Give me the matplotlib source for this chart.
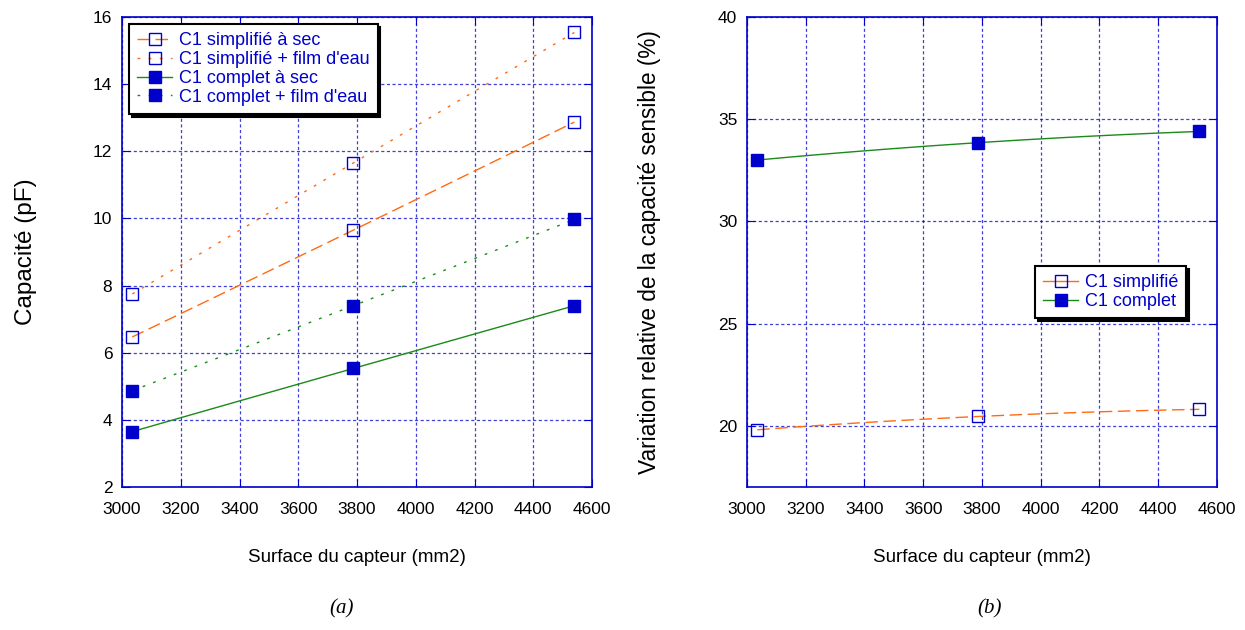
import numpy as np
import matplotlib
matplotlib.use("Agg")
import matplotlib.pyplot as plt

# Data
surface = [3035, 3787, 4540]

simpl_sec = [6.47, 9.65, 12.87]
simpl_film = [7.75, 11.65, 15.54]
complet_sec = [3.65, 5.53, 7.40]
complet_film = [4.87, 7.40, 9.97]

var_simpl = [19.8, 20.45, 20.8]
var_complet = [33.0, 33.85, 34.4]

BLUE = "#0000CC"
ORANGE = "#FF6A13"
GREEN = "#1A8A1A"

plt.rcParams["font.family"] = ["Liberation Sans", "DejaVu Sans"]


def fit_curve(ax, x, y, color, dashes):
    # smooth quadratic fit through the points, like the original software
    c = np.polyfit(x, y, 2)
    xs = np.linspace(x[0], x[-1], 100)
    line, = ax.plot(xs, np.polyval(c, xs), color=color, lw=1.0)
    if dashes is not None:
        line.set_dashes(dashes)
    return line


def style_axes(ax):
    for s in ax.spines.values():
        s.set_color(BLUE)
        s.set_linewidth(1.2)
    ax.tick_params(direction="in", length=6, color=BLUE, top=True, right=True,
                   labelsize=12.5, labelcolor="black")
    ax.tick_params(axis="x", pad=11)
    ax.tick_params(axis="y", pad=7)
    ax.grid(True, color=BLUE, alpha=0.75, lw=0.9, linestyle=(0, (2.5, 2)))
    ax.set_axisbelow(True)


def style_legend(leg):
    leg.get_frame().set_edgecolor("black")
    leg.get_frame().set_linewidth(1.5)
    for t in leg.get_texts():
        t.set_color(BLUE)


fig = plt.figure(figsize=(12.45, 6.3), dpi=100)
ax1 = fig.add_axes([0.098, 0.227, 0.3775, 0.746])
ax2 = fig.add_axes([0.600, 0.227, 0.3775, 0.746])

# (a) capacités
series = [
    ("C1 simplifié à sec", simpl_sec, ORANGE, (9, 4), "none"),
    ("C1 simplifié + film d'eau", simpl_film, ORANGE, (2, 6), "none"),
    ("C1 complet à sec", complet_sec, GREEN, None, BLUE),
    ("C1 complet + film d'eau", complet_film, GREEN, (2, 6), BLUE),
]
handles = []
for label, vals, col, dash, face in series:
    fit_curve(ax1, surface, vals, col, dash)
    ax1.plot(surface, vals, ls="none", marker="s", ms=9, mfc=face, mec=BLUE, mew=1.0)
    h, = ax1.plot([], [], color=col, lw=1.0, marker="s", ms=9, mfc=face, mec=BLUE,
                  label=label)
    if dash is not None:
        h.set_dashes(dash)
    handles.append(h)

ax1.set_xlim(3000, 4600)
ax1.set_ylim(2, 16)
ax1.set_xticks(np.arange(3000, 4601, 200))
ax1.set_yticks(np.arange(2, 17, 2))
style_axes(ax1)
ax1.set_xlabel("Surface du capteur (mm2)", fontsize=13.5, labelpad=23)
ax1.set_ylabel("Capacité (pF)", fontsize=17.5, labelpad=40)
leg1 = ax1.legend(handles=handles, loc="upper left", bbox_to_anchor=(0.0, 1.0),
                  fontsize=13, labelspacing=0.1, handlelength=1.9, handletextpad=0.4,
                  borderpad=0.45, borderaxespad=0.4, fancybox=False,
                  shadow={"color": "black", "alpha": 1.0})
style_legend(leg1)

# (b) variation relative
fit_curve(ax2, surface, var_simpl, ORANGE, (9, 4))
ax2.plot(surface, var_simpl, ls="none", marker="s", ms=9, mfc="none", mec=BLUE, mew=1.0)
fit_curve(ax2, surface, var_complet, GREEN, None)
ax2.plot(surface, var_complet, ls="none", marker="s", ms=9, mfc=BLUE, mec=BLUE, mew=1.0)
lh1, = ax2.plot([], [], color=ORANGE, lw=1.0, marker="s", ms=9, mfc="none", mec=BLUE,
                label="C1 simplifié")
lh2, = ax2.plot([], [], color=GREEN, lw=1.0, marker="s", ms=9, mfc=BLUE, mec=BLUE,
                label="C1 complet")

ax2.set_xlim(3000, 4600)
ax2.set_ylim(17, 40)
ax2.set_xticks(np.arange(3000, 4601, 200))
ax2.set_yticks(np.arange(20, 41, 5))
style_axes(ax2)
ax2.set_xlabel("Surface du capteur (mm2)", fontsize=13.5, labelpad=23)
ax2.set_ylabel("Variation relative de la capacité sensible (%)", fontsize=16.3,
               labelpad=41)
leg2 = ax2.legend(handles=[lh1, lh2], loc="upper right", bbox_to_anchor=(0.935, 0.47),
                  fontsize=13, labelspacing=0.1, handlelength=1.9, handletextpad=0.4,
                  borderpad=0.45, borderaxespad=0.0, fancybox=False,
                  shadow={"color": "black", "alpha": 1.0})
style_legend(leg2)

fig.text(0.274, 0.027, "(a)", fontsize=15, style="italic", family="Liberation Serif",
         ha="center")
fig.text(0.795, 0.027, "(b)", fontsize=15, style="italic", family="Liberation Serif",
         ha="center")

fig.savefig("out.png", dpi=100)
